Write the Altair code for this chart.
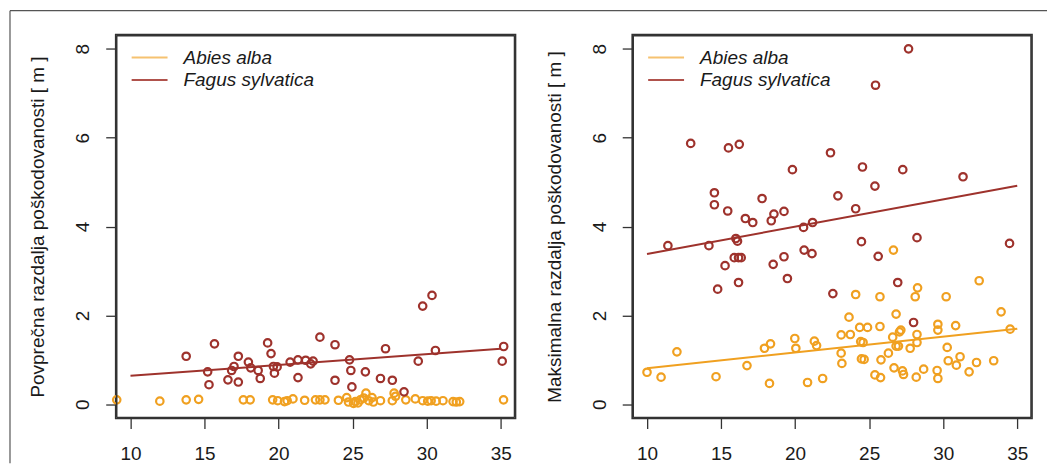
import altair as alt
import pandas as pd

species = ["Abies alba", "Fagus sylvatica"]
colors = ["#F0A020", "#9E322C"]
legend_colors = ["#F6C270", "#B0524C"]

x_ticks = [10, 15, 20, 25, 30, 35]
y_ticks = [0, 2, 4, 6, 8]

left_title = "Povprečna razdalja poškodovanosti [ m ]"
right_title = "Maksimalna razdalja poškodovanosti [ m ]"

# ---- left panel (mean distance) ----
left_fagus_x = [13.76, 15.67, 15.21, 15.30, 16.58, 16.99, 17.28, 17.28, 16.83, 17.96,
                18.12, 18.62, 18.76, 19.26, 19.49, 19.65, 19.72, 19.90, 20.78, 21.31,
                21.31, 21.83, 22.17, 22.33, 22.79, 23.81, 23.81, 24.79, 24.88, 24.95,
                25.86, 26.88, 27.22, 27.68, 28.47, 29.43, 29.73, 30.36, 30.59, 35.20, 35.10]
left_fagus_y = [1.08, 1.36, 0.73, 0.44, 0.55, 0.85, 1.08, 0.50, 0.76, 0.95,
                0.82, 0.76, 0.58, 1.38, 1.14, 0.85, 0.70, 0.84, 0.95, 1.00,
                0.60, 0.99, 0.91, 0.97, 1.51, 1.34, 0.54, 1.00, 0.76, 0.39,
                0.73, 0.58, 1.25, 0.54, 0.28, 0.97, 2.21, 2.45, 1.21, 1.30, 0.97]
left_abies_x = [9.07, 11.98, 13.76, 14.6, 17.62, 18.08, 19.6, 19.94, 20.4, 20.58,
                20.97, 21.76, 22.49, 22.79, 23.13, 24.04, 24.6, 24.72, 25.06, 25.18,
                25.36, 25.52, 25.75, 25.9, 26.09, 26.31, 26.4, 26.88, 27.68, 27.8,
                27.9, 28.59, 29.23, 29.73, 30.07, 30.3, 30.64, 31.1, 31.78, 32.0,
                32.23, 35.19]
left_abies_y = [0.10, 0.07, 0.10, 0.11, 0.10, 0.10, 0.10, 0.08, 0.06, 0.08,
                0.12, 0.09, 0.10, 0.10, 0.10, 0.09, 0.15, 0.05, 0.02, 0.06,
                0.03, 0.10, 0.14, 0.25, 0.08, 0.15, 0.05, 0.08, 0.08, 0.25,
                0.18, 0.10, 0.12, 0.08, 0.07, 0.08, 0.07, 0.08, 0.06, 0.05,
                0.06, 0.10]

# ---- right panel (maximum distance) ----
right_fagus_x = [11.41, 12.95, 14.18, 14.55, 14.55, 14.77, 15.27, 15.45, 15.50, 15.89,
                 16.00, 16.11, 16.18, 16.23, 16.36, 16.18, 16.64, 17.14, 17.77, 18.52,
                 18.39, 18.57, 19.25, 19.25, 19.48, 19.82, 20.57, 20.61, 21.14, 21.18,
                 22.39, 22.55, 22.89, 24.09, 24.48, 24.55, 25.39, 25.43, 25.61, 26.93,
                 27.27, 27.66, 28.00, 28.23, 31.34, 34.48]
right_fagus_y = [3.57, 5.87, 3.57, 4.76, 4.49, 2.59, 3.12, 4.35, 5.77, 3.30,
                 3.73, 3.67, 3.30, 5.85, 3.30, 2.74, 4.18, 4.09, 4.63, 3.15,
                 4.13, 4.28, 4.34, 3.32, 2.83, 5.28, 3.98, 3.47, 3.39, 4.09,
                 5.66, 2.49, 4.69, 4.40, 3.66, 5.34, 4.91, 7.18, 3.33, 2.74,
                 5.28, 8.00, 1.84, 3.75, 5.12, 3.62]
right_abies_x = [10.00, 10.95, 12.02, 14.66, 16.75, 17.93, 18.27, 18.34, 19.98, 20.05,
                 20.84, 21.30, 21.45, 21.86, 23.11, 23.11, 23.16, 23.64, 23.73, 24.09,
                 24.36, 24.43, 24.59, 24.48, 24.66, 24.89, 25.39, 25.73, 25.73, 25.77,
                 25.80, 26.30, 26.59, 26.64, 26.68, 26.82, 26.82, 26.98, 27.05, 27.14,
                 27.25, 27.32, 27.77, 28.11, 28.23, 28.27, 28.23, 28.18, 28.68, 29.64,
                 29.64, 29.59, 29.64, 30.20, 30.27, 30.34, 30.84, 30.89, 31.14, 31.75,
                 32.25, 32.43, 33.41, 33.91, 34.52]
right_abies_y = [0.72, 0.61, 1.18, 0.62, 0.87, 1.26, 0.47, 1.36, 1.48, 1.26,
                 0.49, 1.42, 1.32, 0.58, 1.56, 1.15, 0.92, 1.96, 1.57, 2.47,
                 1.73, 1.41, 1.39, 1.02, 1.01, 1.73, 0.66, 1.75, 2.42, 0.60,
                 1.00, 1.15, 1.51, 3.47, 0.82, 2.03, 1.31, 1.31, 1.63, 1.67,
                 0.75, 0.67, 1.26, 2.42, 1.57, 2.62, 1.39, 0.61, 0.79, 1.80,
                 1.67, 0.76, 0.58, 2.42, 1.28, 0.98, 1.77, 0.88, 1.07, 0.73,
                 0.94, 2.78, 0.98, 2.08, 1.69]

# ---- fitted lines (end values) ----
fit_x = [10, 35]
left_fagus_fit = [0.64, 1.25]
right_fagus_fit = [3.38, 4.92]
right_abies_fit = [0.81, 1.70]

FONT = "Liberation Sans"
TXT = "#1a1a1a"
FS = 19
W, H = 401, 385

color_scale = alt.Scale(domain=species, range=colors)


def points_df(ax, ay, fx, fy):
    a = pd.DataFrame({"x": ax, "y": ay, "species": species[0], "order": 0})
    f = pd.DataFrame({"x": fx, "y": fy, "species": species[1], "order": 1})
    return pd.concat([a, f], ignore_index=True)


def fit_df(fits):
    rows = []
    for sp, vals in fits:
        for xv, yv in zip(fit_x, vals):
            rows.append({"x": xv, "y": yv, "species": sp})
    return pd.DataFrame(rows)


def rule(color, width, **enc):
    return alt.Chart(pd.DataFrame({"f": [0]})).mark_rule(
        color=color, strokeWidth=width).encode(**enc)


def panel(pdf, fdf, title, border=False):
    xenc = alt.X("x:Q", scale=alt.Scale(domain=[9, 36], nice=False, zero=False),
                 axis=alt.Axis(values=x_ticks, title=None, grid=False, domain=False,
                               tickSize=10, tickColor="#333", tickWidth=1.3,
                               labelFontSize=FS, labelFont=FONT, labelColor=TXT,
                               labelPadding=16, labelFlush=False))
    yenc = alt.Y("y:Q", scale=alt.Scale(domain=[-0.32, 8.32], nice=False, zero=False),
                 axis=alt.Axis(values=y_ticks, title=title, grid=False, domain=False,
                               tickSize=10, tickColor="#333", tickWidth=1.3,
                               labelFontSize=FS, labelFont=FONT, labelColor=TXT,
                               labelAngle=270, labelAlign="center",
                               labelBaseline="alphabetic", labelPadding=17,
                               labelFlush=False,
                               titleFontSize=FS, titleFont=FONT, titleColor=TXT,
                               titleFontWeight="normal", titleX=-72,
                               titleBaseline="alphabetic"))
    pts = alt.Chart(pdf).mark_point(shape="circle", filled=False, size=56,
                                    strokeWidth=2.2, opacity=1).encode(
        x=xenc, y=yenc,
        color=alt.Color("species:N", scale=color_scale, legend=None),
        order=alt.Order("order:Q"))
    lines = alt.Chart(fdf).mark_line(strokeWidth=2).encode(
        x=alt.X("x:Q"), y=alt.Y("y:Q"),
        color=alt.Color("species:N", scale=color_scale, legend=None),
        detail="species:N")
    fc, fw = "#333333", 1.6
    layers = [pts, lines,
              rule(fc, fw, x=alt.value(1), x2=alt.value(W - 1), y=alt.value(1)),
              rule(fc, fw, x=alt.value(1), x2=alt.value(W - 1), y=alt.value(H - 1)),
              rule(fc, fw, x=alt.value(1), y=alt.value(1), y2=alt.value(H - 1)),
              rule(fc, fw, x=alt.value(W - 1), y=alt.value(1), y2=alt.value(H - 1))]
    for i, sp in enumerate(species):
        yy = 23 + 22.5 * i
        layers.append(alt.Chart(pd.DataFrame({"s": [sp]})).mark_rule(
            color=legend_colors[i], strokeWidth=2).encode(
            x=alt.value(16), x2=alt.value(52), y=alt.value(yy)))
        layers.append(alt.Chart(pd.DataFrame({"s": [sp]})).mark_text(
            align="left", baseline="middle", fontSize=FS, font=FONT,
            fontStyle="italic", color=TXT).encode(
            x=alt.value(68), y=alt.value(yy), text="s:N"))
    if border:
        layers.append(rule("#555", 1.2, x=alt.value(-106), x2=alt.value(934),
                           y=alt.value(-24)))
        layers.append(rule("#555", 1.2, x=alt.value(-106), y=alt.value(-24),
                           y2=alt.value(430)))
    return alt.layer(*layers).properties(width=W, height=H)


left = panel(points_df(left_abies_x, left_abies_y, left_fagus_x, left_fagus_y),
             fit_df([(species[1], left_fagus_fit)]), left_title, border=True)
right = panel(points_df(right_abies_x, right_abies_y, right_fagus_x, right_fagus_y),
              fit_df([(species[0], right_abies_fit), (species[1], right_fagus_fit)]),
              right_title)

chart = alt.hconcat(left, right, spacing=117, bounds="flush").properties(
    padding={"left": 0, "top": 0, "right": 0, "bottom": 0},
    background="white"
).configure_view(stroke="#333333", strokeWidth=1.6)

chart.save("out.html", embed_options={"renderer": "svg", "actions": False})
